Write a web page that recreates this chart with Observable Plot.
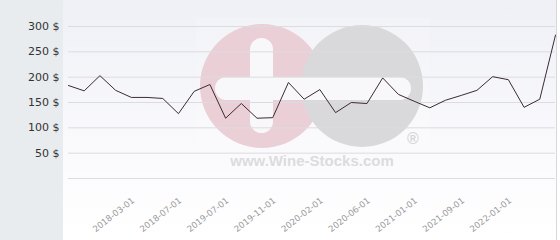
<!DOCTYPE html>
<html>
<head>
<meta charset="utf-8">
<script src="https://cdn.jsdelivr.net/npm/d3@7"></script>
<script src="https://cdn.jsdelivr.net/npm/@observablehq/plot@0.6"></script>
<style>
  html, body { margin: 0; padding: 0; background: #fff; }
  #wrap { position: relative; width: 560px; height: 240px; overflow: hidden; }
  #panel { position: absolute; left: 0; top: 0; width: 63px; height: 240px; background: #e8ecef; }
  #plotbg { position: absolute; left: 63px; top: 0; width: 493px; height: 240px;
            background: linear-gradient(#eff0f6, #fcfcfe 75%, #ffffff); border-right: 1px solid #d8d8dc; }
  #wm { position: absolute; left: 0; top: 0; }
  #chart { position: absolute; left: 0; top: 0; }
</style>
</head>
<body>
<div id="wrap">
  <div id="panel"></div>
  <div id="plotbg"></div>
  <svg id="wm" width="560" height="240">
    <rect x="196" y="18" width="234" height="158" fill="#ffffff" opacity="0.15"></rect>
    <circle cx="262" cy="86" r="62" fill="#ead0d6"></circle>
    <circle cx="362" cy="86" r="61" fill="#d9d9db"></circle>
    <rect x="250" y="38" width="23" height="95" rx="11.5" fill="#f8f8fa"></rect>
    <rect x="215" y="77" width="196" height="23" rx="11.5" fill="#f8f8fa"></rect>
    <text x="413" y="144" font-family="Liberation Sans, Arial, sans-serif" font-size="16" font-weight="bold" fill="#d6d6d8" text-anchor="middle">®</text>
    <text x="312" y="166" font-family="Liberation Sans, Arial, sans-serif" font-size="15" font-weight="bold" fill="#dcdcde" text-anchor="middle">www.Wine-Stocks.com</text>
  </svg>
  <div id="chart"></div>
</div>
<script>
const values = [183.5, 173, 203, 174, 160, 160, 158, 128, 172, 185.5, 119, 148, 119, 120, 189.5, 156.5,
                175.5, 130, 150, 148, 198.5, 166, 152.5, 139.5, 154.5, 164, 174, 201, 195, 140.5, 156.5, 283];
// Observation indices that carry a date label, and those labels
const tickIndex = [4, 7, 10, 13, 16, 19, 22, 25, 28];
const tickLabels = ["2018-03-01", "2018-07-01", "2019-07-01", "2019-11-01", "2020-02-01",
                    "2020-06-01", "2021-01-01", "2021-09-01", "2022-01-01"];
const yTicks = [50, 100, 150, 200, 250, 300];
const yGrid = [0, 50, 100, 150, 200, 250, 300];

const data = values.map((v, i) => ({i, v}));
const labelOf = new Map(tickIndex.map((t, k) => [t, tickLabels[k]]));

const chart = Plot.plot({
  width: 560,
  height: 240,
  marginLeft: 68,
  marginRight: 5,
  marginTop: 26,
  marginBottom: 62,
  style: {background: "transparent", fontFamily: "DejaVu Sans, sans-serif", overflow: "visible"},
  x: {type: "linear", domain: [0, values.length - 1]},
  y: {domain: [0, 300]},
  marks: [
    Plot.ruleY(yGrid, {stroke: "#dcdce0", strokeWidth: 1}),
    Plot.axisY({ticks: yTicks, tickSize: 0, tickPadding: 9, tickFormat: d => `${d} $`,
                fontSize: 11, fill: "#333", label: null}),
    Plot.axisX({ticks: tickIndex, tickSize: 0, tickPadding: 21, dx: 2, tickRotate: -38,
                tickFormat: d => labelOf.get(d), fontSize: 8.6, fill: "#9a9a9a", label: null}),
    Plot.line(data, {x: "i", y: "v", stroke: "#3b2a35", strokeWidth: 1})
  ]
});
document.getElementById("chart").appendChild(chart);
</script>
</body>
</html>
